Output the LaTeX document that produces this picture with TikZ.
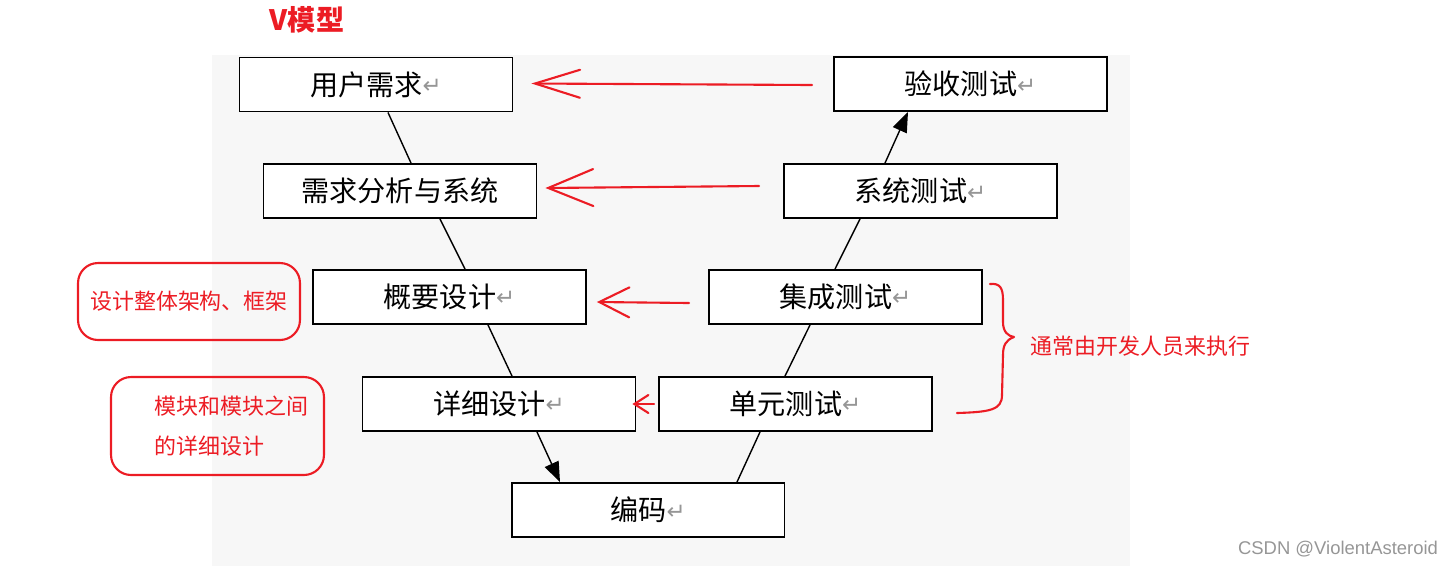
\documentclass[tikz,border=0pt]{standalone}
\usepackage{fontspec}
\setmainfont{Noto Sans CJK SC}
\newfontfamily\retfont{DejaVu Sans}
\newfontfamily\latinfont{Liberation Sans}
\usetikzlibrary{arrows.meta, calc}
\definecolor{notered}{RGB}{236, 28, 36}
\definecolor{bggray}{RGB}{247, 247, 247}
\definecolor{markgray}{RGB}{150, 150, 150}
\newcommand{\retmark}{{\retfont\fontsize{13pt}{13pt}\selectfont\color{markgray}\raisebox{1pt}{↵}}}

\begin{document}
\begin{tikzpicture}[
  x=0.02cm, y=-0.02cm,
  stage/.style={rectangle, draw=black, line width=1.1pt, fill=white,
                minimum width=5.46cm, minimum height=1.08cm, inner sep=0pt,
                font=\fontsize{16pt}{18pt}\selectfont},
  notetext/.style={text=notered, inner sep=0pt, font=\fontsize{12.5pt}{23pt}\selectfont},
  note/.style={notetext, rectangle, rounded corners=0.4cm, draw=notered, line width=1.2pt},
  link/.style={line width=0.8pt, black},
  arr/.style={-{Triangle[length=0.4cm, width=0.3cm]}, line width=0.8pt, black},
  redarr/.style 2 args={-{Straight Barb[length=#1, width=#2, line cap=round]},
                        line width=1.2pt, notered, line cap=round},
  devbrace/.style={notered, line width=1.2pt, line cap=round, line join=round}
]
\useasboundingbox (0,0) rectangle (1453,566);
\fill[bggray] (212,55) rectangle (1130,566);

\node[font=\fontsize{16pt}{18pt}\selectfont\bfseries, text=notered] (title) at (307,20) {V模型};

% left branch: design
\node[stage] (yh) at (376,84.5) {用户需求\retmark};
\node[stage] (xq) at (400,191) {需求分析与系统};
\node[stage] (gy) at (449.5,297) {概要设计\retmark};
\node[stage] (xx) at (499,404) {详细设计\retmark};
\node[stage] (bm) at (648,510) {编码\retmark};
% right branch: testing
\node[stage] (dy) at (795.5,404) {单元测试\retmark};
\node[stage] (jc) at (845.5,297) {集成测试\retmark};
\node[stage] (xt) at (920.5,191) {系统测试\retmark};
\node[stage] (ys) at (970.5,84) {验收测试\retmark};

\draw[link] ($(yh.south)+(12,0)$) -- ($(xq.north)+(11,0)$);
\draw[link] ($(xq.south)+(40,0)$) -- ($(gy.north)+(15.5,0)$);
\draw[link] ($(gy.south)+(38.5,0)$) -- ($(xx.north)+(13,0)$);
\draw[arr] ($(xx.south)+(38,0)$) -- ($(bm.north)+(-88,0)$);
\draw[link] ($(bm.north)+(89,0)$) -- ($(dy.south)+(-35.5,0)$);
\draw[link] ($(dy.north)+(-10.5,0)$) -- ($(jc.south)+(-35.5,0)$);
\draw[link] ($(jc.north)+(-10.5,0)$) -- ($(xt.south)+(-60.5,0)$);
\draw[arr] ($(xt.north)+(-35.5,0)$) -- ($(ys.south)+(-62.5,0)$);

% hand-drawn red arrows, test -> design
\draw[redarr={0.9cm}{0.56cm}] ($(ys.west)+(-21,1)$) -- ($(yh.east)+(18,-1)$);
\draw[redarr={0.9cm}{0.74cm}] ($(xt.west)+(-24,-5)$) -- ($(xq.east)+(8,-3)$);
\draw[redarr={0.6cm}{0.6cm}] ($(jc.west)+(-19,6)$) -- ($(gy.east)+(10,5)$);
\draw[redarr={0.28cm}{0.36cm}] ($(dy.west)+(-4,0)$) -- ($(xx.east)+(-4,0)$);

% notes
\node[note, minimum width=4.44cm, minimum height=1.54cm] (jg) at (189,301.5) {设计整体架构、框架};
\node[note, minimum width=4.26cm, minimum height=1.96cm] (mk) at (217.5,426) {};
\node[notetext, anchor=west, align=left] (mkt) at ($(mk.west)+(44,0)$) {模块和模块之间\\的详细设计};

\draw[devbrace] (990,284) .. controls (1000,283) and (1003,288) .. (1003,300) -- (1003,322)
  .. controls (1003,332) and (1008,336) .. (1014,337)
  .. controls (1006,340) and (1003,345) .. (1003,355) -- (1002,395)
  .. controls (1002,410) and (990,412) .. (957,413);
\node[notetext, anchor=west] (zx) at (1030,346) {通常由开发人员来执行};

\node[font=\latinfont\fontsize{10.5pt}{12pt}\selectfont, text=markgray] (csdn) at (1338,549) {CSDN @ViolentAsteroid};
\end{tikzpicture}
\end{document}
